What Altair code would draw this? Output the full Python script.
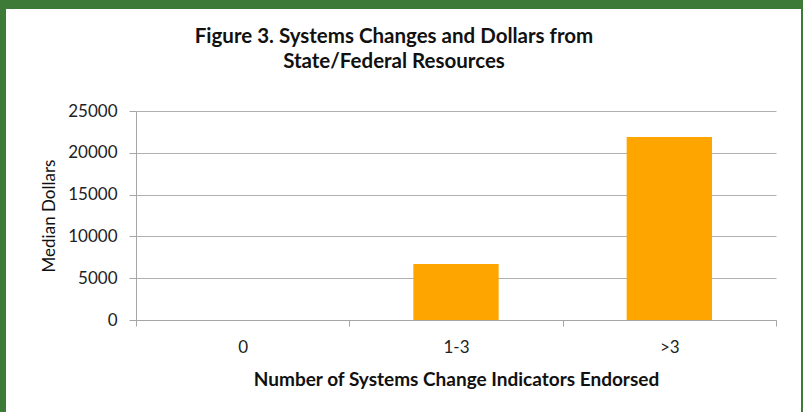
import altair as alt
import pandas as pd

categories = ["0", "1-3", ">3"]
values = [0, 6700, 21900]
y_ticks = [0, 5000, 10000, 15000, 20000, 25000]
title_lines = ["Figure 3. Systems Changes and Dollars from", "State/Federal Resources"]
x_title = "Number of Systems Change Indicators Endorsed"
y_title = "Median Dollars"

df = pd.DataFrame({"category": categories, "median": values})
one = pd.DataFrame({"k": [0]})

W, H = 640, 209
PL, PT = 136, 111
GREEN = "#3d7a37"
FONT = "Lato"

bars = alt.Chart(df).mark_bar(color="#FFA500", width=alt.RelativeBandSize(0.4)).encode(
    x=alt.X(
        "category:N",
        sort=categories,
        scale=alt.Scale(paddingInner=0, paddingOuter=0),
        axis=alt.Axis(
            title=x_title,
            labelAngle=0,
            tickBand="extent",
            tickSize=6,
            labelPadding=13,
            titlePadding=15,
            labelFontSize=17,
            titleFontSize=19,
            titleFontWeight="bold",
            grid=False,
        ),
    ),
    y=alt.Y(
        "median:Q",
        scale=alt.Scale(domain=[0, 25000]),
        axis=alt.Axis(
            title=y_title,
            values=y_ticks,
            format="d",
            tickSize=7,
            labelPadding=12,
            titlePadding=9,
            labelFontSize=17,
            titleFontSize=17,
            titleFontWeight="normal",
            grid=True,
        ),
    ),
)

W_TOT, H_TOT = 803, 412
top = alt.Chart(one).mark_rect(color=GREEN).encode(
    x=alt.value(-PL), x2=alt.value(W_TOT - PL), y=alt.value(-PT), y2=alt.value(9 - PT)
)
left = alt.Chart(one).mark_rect(color=GREEN).encode(
    x=alt.value(-PL), x2=alt.value(6 - PL), y=alt.value(-PT), y2=alt.value(H_TOT - PT)
)
right = alt.Chart(one).mark_rect(color=GREEN).encode(
    x=alt.value(801 - PL), x2=alt.value(W_TOT - PL), y=alt.value(-PT), y2=alt.value(H_TOT - PT)
)

chart = alt.layer(bars, top, left, right).properties(
    width=W,
    height=H,
    padding={"left": PL, "top": PT, "right": W_TOT - PL - W, "bottom": H_TOT - PT - H},
    autosize=alt.AutoSizeParams(type="none"),
    background="white",
    title=alt.TitleParams(
        text=title_lines,
        anchor="middle",
        baseline="alphabetic",
        dx=-62,
        dy=88,
        offset=0,
        fontSize=20.5,
        font=FONT,
        fontWeight="bold",
        lineHeight=25,
        color="#111111",
    ),
).configure_view(stroke=None).configure_axis(
    labelFont=FONT,
    titleFont=FONT,
    labelColor="#222222",
    titleColor="#111111",
    domainColor="#a6a6a6",
    tickColor="#a6a6a6",
    gridColor="#b0b0b0",
    domainWidth=1,
    tickWidth=1,
    gridWidth=1,
)

chart.save("out.html", embed_options={"renderer": "svg", "actions": False})
